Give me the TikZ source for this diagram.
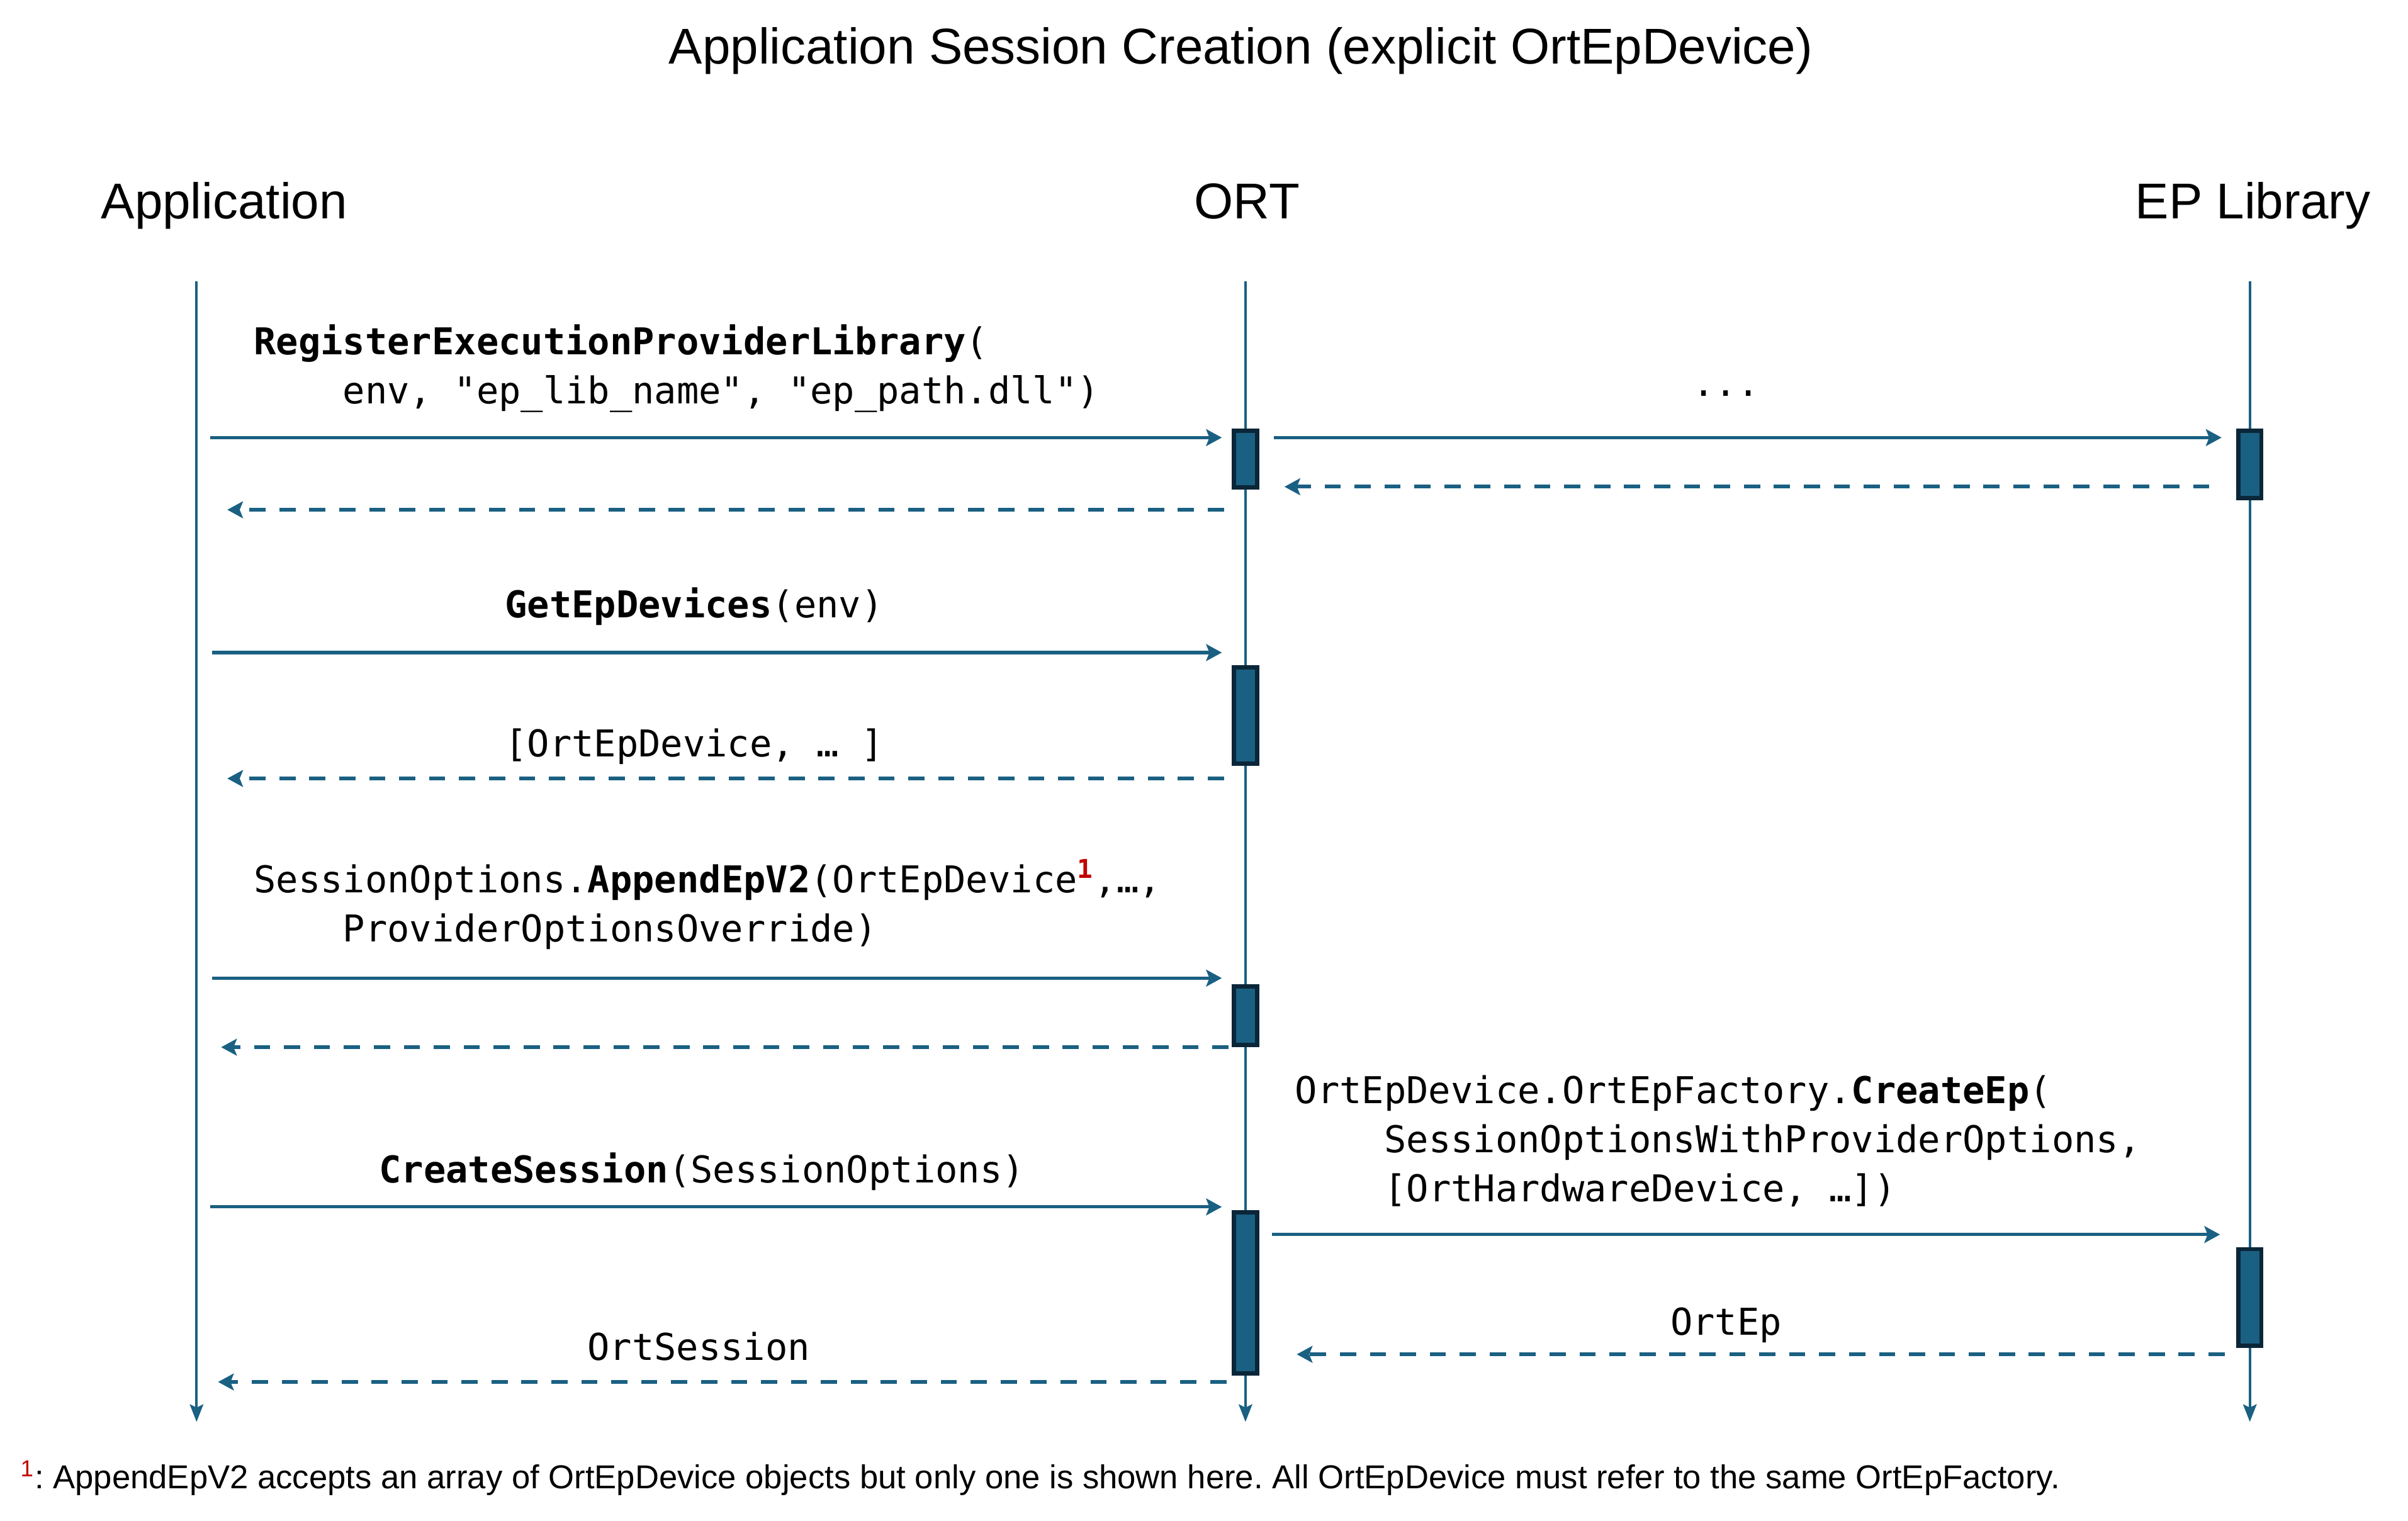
\documentclass[tikz,border=0pt]{standalone}
\usepackage{fontspec}
\setmainfont{Liberation Sans}
\setmonofont{DejaVu Sans Mono}
\usetikzlibrary{arrows.meta, positioning}

\definecolor{seqblue}{RGB}{26,96,130}
\definecolor{actdark}{RGB}{10,38,56}
\definecolor{noteRed}{RGB}{192,0,0}
\newcommand{\msgindent}{\phantom{xxxx}}
\frenchspacing

\begin{document}
\begin{tikzpicture}[x=0.02cm, y=-0.02cm,
  msg/.style={seqblue, line width=1.2pt, -{Stealth[length=5.8pt, width=6.2pt, inset=1.2pt]}},
  ret/.style={msg, line width=1.4pt, dash pattern=on 6pt off 5.1pt},
  lifeline/.style={seqblue, line width=0.9pt, -{Stealth[length=6.5pt, width=5pt, inset=1.2pt]}},
  actbox/.style={draw=actdark, fill=seqblue, line width=1.6pt, minimum width=0.3cm, inner sep=0pt},
  actor/.style={font=\fontsize{18.65}{22}\selectfont, inner sep=0pt, anchor=base},
  code/.style={font=\ttfamily\fontsize{13.7}{18.2}\selectfont, align=left, inner sep=0pt}]

\useasboundingbox (0,0) rectangle (1568,990.5);

% Title and participants
\node[actor] (title) at (808,41.7) {Application Session Creation (explicit OrtEpDevice)};
\node[actor] (hdrApp) at (146,142.3) {Application};
\node[actor] (hdrOrt) at (812,142.3) {ORT};
\node[actor] (hdrEp) at (1467,142.3) {EP Library};

% Lifelines
\coordinate (appTop) at (128,183);
\coordinate (appBot) at (128,926);
\coordinate (ortTop) at (811,183);
\coordinate (ortBot) at (811,926);
\coordinate (epTop) at (1465,183);
\coordinate (epBot) at (1465,926);
\draw[lifeline] (appTop) -- (appBot);
\draw[lifeline] (ortTop) -- (ortBot);
\draw[lifeline] (epTop) -- (epBot);

% Activation boxes
\node[actbox, minimum height=0.74cm] (ortAct1) at (811,299) {};
\node[actbox, minimum height=0.88cm] (epAct1) at (1465,302.5) {};
\node[actbox, minimum height=1.26cm] (ortAct2) at (811,466) {};
\node[actbox, minimum height=0.76cm] (ortAct3) at (811,661.5) {};
\node[actbox, minimum height=2.1cm] (ortAct4) at (811,842) {};
\node[actbox, minimum height=1.26cm] (epAct2) at (1465,845) {};

% RegisterExecutionProviderLibrary
\node[code, anchor=west] (lblRegister) at (165,240)
  {\textbf{RegisterExecutionProviderLibrary}(\\
   \msgindent env, "ep\_lib\_name", "ep\_path.dll")};
\node[code] (lblDots) at (1124,256) {...};
\coordinate (m1) at (128,285);
\draw[msg, shorten <=0.18cm, shorten >=0.13cm] (m1) -- (m1 -| ortAct1.west);
\draw[msg, shorten <=0.19cm, shorten >=0.19cm] (m1 -| ortAct1.east) -- (m1 -| epAct1.west);
\coordinate (r1b) at (1465,317);
\draw[ret, shorten <=0.35cm, shorten >=0.33cm] (r1b -| epAct1.west) -- (r1b -| ortAct1.east);
\coordinate (r1) at (811,332);
\draw[ret, shorten <=0.28cm, shorten >=0.4cm] (r1) -- (r1 -| appTop);

% GetEpDevices
\node[code] (lblGetDev) at (452,395) {\textbf{GetEpDevices}(env)};
\coordinate (m2) at (128,425);
\draw[msg, shorten <=0.2cm, shorten >=0.13cm] (m2) -- (m2 -| ortAct2.west);
\node[code] (lblDevList) at (452,486) {[OrtEpDevice, … ]};
\coordinate (r2) at (811,507);
\draw[ret, shorten <=0.28cm, shorten >=0.4cm] (r2) -- (r2 -| appTop);

% AppendEpV2
\node[code, anchor=west] (lblAppend) at (165,589)
  {SessionOptions.\textbf{AppendEpV2}(OrtEpDevice\textsuperscript{\textcolor{noteRed}{\textbf{1}}},…,\\
   \msgindent ProviderOptionsOverride)};
\coordinate (m3) at (128,637);
\draw[msg, shorten <=0.2cm, shorten >=0.13cm] (m3) -- (m3 -| ortAct3.west);
\coordinate (r3) at (811,682);
\draw[ret, shorten <=0.22cm, shorten >=0.32cm] (r3) -- (r3 -| appTop);

% CreateSession
\node[code] (lblCreateSess) at (457,763) {\textbf{CreateSession}(SessionOptions)};
\coordinate (m4) at (128,786);
\draw[msg, shorten <=0.18cm, shorten >=0.13cm] (m4) -- (m4 -| ortAct4.west);
\node[code, anchor=west] (lblCreateEp) at (843,743)
  {OrtEpDevice.OrtEpFactory.\textbf{CreateEp}(\\
   \msgindent SessionOptionsWithProviderOptions,\\
   \msgindent [OrtHardwareDevice, …])};
\coordinate (m4b) at (811,804);
\draw[msg, shorten <=0.17cm, shorten >=0.21cm] (m4b -| ortAct4.east) -- (m4b -| epAct2.west);
\node[code] (lblOrtEp) at (1124,863) {OrtEp};
\coordinate (r4b) at (1465,882);
\draw[ret, shorten <=0.15cm, shorten >=0.49cm] (r4b -| epAct2.west) -- (r4b -| ortAct4.east);
\node[code] (lblOrtSess) at (455,877) {OrtSession};
\coordinate (r4) at (811,900);
\draw[ret, shorten <=0.07cm, shorten >=0.28cm] (r4 -| ortAct4.west) -- (r4 -| appTop);

% Footnote
\node[anchor=base west, inner sep=0pt, font=\fontsize{12.28}{14}\selectfont] (footnote) at (13,969.5)
  {\textsuperscript{\textcolor{noteRed}{1}}: AppendEpV2 accepts an array of OrtEpDevice objects but only one is shown here. All OrtEpDevice must refer to the same OrtEpFactory.};

\end{tikzpicture}
\end{document}
